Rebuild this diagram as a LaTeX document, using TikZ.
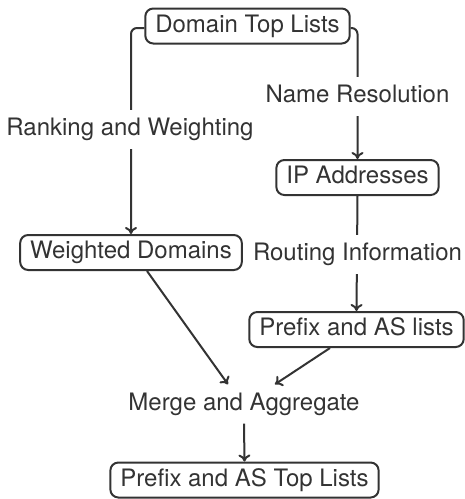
\documentclass[tikz,border=0pt]{standalone}
\usepackage{fontspec}
\setmainfont{TeX Gyre Heros}
\usetikzlibrary{arrows.meta}
\definecolor{ink}{HTML}{333333}
\begin{document}
\begin{tikzpicture}[x=1pt,y=-1pt,
  every node/.style={text=ink, font=\fontsize{24}{28}\selectfont, text height=17pt, text depth=5pt},
  box/.style={draw=ink, line width=2pt, rounded corners=8pt, inner xsep=10pt, inner ysep=6.5pt},
  lbl/.style={fill=white, inner xsep=2pt, inner ysep=8.5pt},
  conn/.style={draw=ink, line width=2pt, -{To[length=7pt,width=12pt]}},
  elbow/.style={conn, rounded corners=6pt}]
\useasboundingbox (0,0) rectangle (465,499);
\node[box] (dtl) at (247.5,26) {Domain Top Lists};
\node[box] (ip) at (357.5,177.5) {IP Addresses};
\node[box] (wd) at (131,252.5) {Weighted Domains};
\node[box] (pl) at (356.5,329.5) {Prefix and AS lists};
\node[inner sep=8.5pt] (ma) at (244,404) {Merge and Aggregate};
\node[box] (pt) at (244.5,480) {Prefix and AS Top Lists};
\draw[elbow] ([yshift=-2pt]dtl.west) -| (wd.north);
\draw[elbow] ([yshift=-2pt]dtl.east) -| (ip.north);
\draw[conn] (ip.south) -- (pl.north);
\node[lbl] (rw) at (130,129) {Ranking and Weighting};
\node[lbl] (nr) at (357.5,96) {Name Resolution};
\node[lbl] (ri) at (357.5,254) {Routing Information};
\draw[conn] ([xshift=16pt]wd.south) -- ([xshift=-16pt]ma.north);
\draw[conn] ([xshift=-26.5pt]pl.south) -- ([xshift=31pt]ma.north);
\draw[conn] (ma.south) -- (pt.north);
\end{tikzpicture}
\end{document}
